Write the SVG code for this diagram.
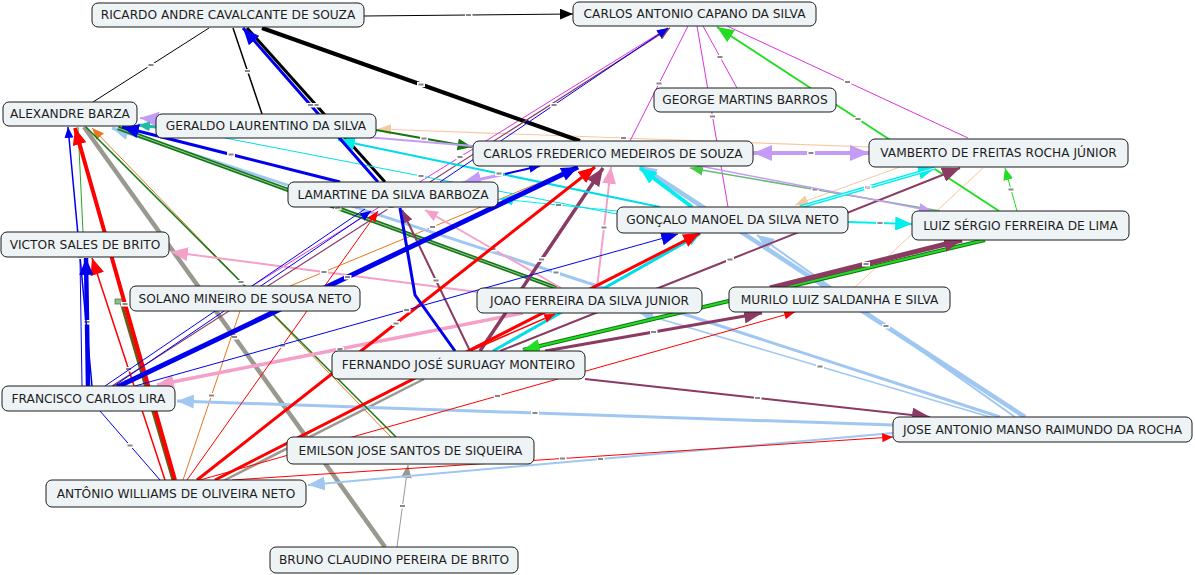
<svg xmlns="http://www.w3.org/2000/svg" width="1195" height="575" viewBox="0 0 1195 575">
<style>
.n rect{fill:#eef3f6;stroke:#1a1a1a;stroke-width:1}
.n text{font-family:"DejaVu Sans",Verdana,sans-serif;font-size:12.2px;fill:#1e1e1e;text-anchor:middle}
#edges path{fill:none;stroke-linecap:butt;marker-mid:url(#lbl)}
#edges path.nm{marker-mid:none}
</style>
<defs>
<marker id="lbl" viewBox="0 0 8 5" refX="4" refY="2.5" markerWidth="8" markerHeight="5" markerUnits="userSpaceOnUse" orient="0"><rect width="8" height="5" fill="#fff"/><rect x="1.5" y="1.5" width="5" height="2" fill="#888"/></marker>
<marker id="aK" viewBox="0 0 12 10" refX="12" refY="5" markerWidth="13" markerHeight="11" markerUnits="userSpaceOnUse" orient="auto"><path d="M0,0L12,5L0,10z" fill="#000"/></marker>
<marker id="aB" viewBox="0 0 12 10" refX="12" refY="5" markerWidth="11" markerHeight="9" markerUnits="userSpaceOnUse" orient="auto"><path d="M0,0L12,5L0,10z" fill="#0000ee"/></marker>
<marker id="aBL" viewBox="0 0 12 10" refX="12" refY="5" markerWidth="17" markerHeight="14" markerUnits="userSpaceOnUse" orient="auto"><path d="M0,0L12,5L0,10z" fill="#0000ee"/></marker>
<marker id="aR" viewBox="0 0 12 10" refX="12" refY="5" markerWidth="11" markerHeight="9" markerUnits="userSpaceOnUse" orient="auto"><path d="M0,0L12,5L0,10z" fill="#ff0000"/></marker>
<marker id="aRL" viewBox="0 0 12 10" refX="12" refY="5" markerWidth="17" markerHeight="14" markerUnits="userSpaceOnUse" orient="auto"><path d="M0,0L12,5L0,10z" fill="#ff0000"/></marker>
<marker id="aP" viewBox="0 0 12 10" refX="12" refY="5" markerWidth="13" markerHeight="11" markerUnits="userSpaceOnUse" orient="auto"><path d="M0,0L12,5L0,10z" fill="#8b3a62"/></marker>
<marker id="aPL" viewBox="0 0 12 10" refX="12" refY="5" markerWidth="18" markerHeight="15" markerUnits="userSpaceOnUse" orient="auto"><path d="M0,0L12,5L0,10z" fill="#8b3a62"/></marker>
<marker id="aC" viewBox="0 0 12 10" refX="12" refY="5" markerWidth="13" markerHeight="11" markerUnits="userSpaceOnUse" orient="auto"><path d="M0,0L12,5L0,10z" fill="#00eeee"/></marker>
<marker id="aCL" viewBox="0 0 12 10" refX="12" refY="5" markerWidth="17" markerHeight="14" markerUnits="userSpaceOnUse" orient="auto"><path d="M0,0L12,5L0,10z" fill="#00eeee"/></marker>
<marker id="aLb" viewBox="0 0 12 10" refX="12" refY="5" markerWidth="13" markerHeight="11" markerUnits="userSpaceOnUse" orient="auto"><path d="M0,0L12,5L0,10z" fill="#9fc7f2"/></marker>
<marker id="aLbL" viewBox="0 0 12 10" refX="12" refY="5" markerWidth="17" markerHeight="14" markerUnits="userSpaceOnUse" orient="auto"><path d="M0,0L12,5L0,10z" fill="#9fc7f2"/></marker>
<marker id="aLv" viewBox="0 0 12 10" refX="12" refY="5" markerWidth="13" markerHeight="11" markerUnits="userSpaceOnUse" orient="auto"><path d="M0,0L12,5L0,10z" fill="#c49cf5"/></marker>
<marker id="aLvL" viewBox="0 0 12 10" refX="12" refY="5" markerWidth="19" markerHeight="16" markerUnits="userSpaceOnUse" orient="auto-start-reverse"><path d="M0,0L12,5L0,10z" fill="#c49cf5"/></marker>
<marker id="aPk" viewBox="0 0 12 10" refX="12" refY="5" markerWidth="13" markerHeight="11" markerUnits="userSpaceOnUse" orient="auto"><path d="M0,0L12,5L0,10z" fill="#f5a0c8"/></marker>
<marker id="aPkL" viewBox="0 0 12 10" refX="12" refY="5" markerWidth="17" markerHeight="14" markerUnits="userSpaceOnUse" orient="auto"><path d="M0,0L12,5L0,10z" fill="#f5a0c8"/></marker>
<marker id="aPc" viewBox="0 0 12 10" refX="12" refY="5" markerWidth="13" markerHeight="11" markerUnits="userSpaceOnUse" orient="auto"><path d="M0,0L12,5L0,10z" fill="#f8c8a0"/></marker>
<marker id="aO" viewBox="0 0 12 10" refX="12" refY="5" markerWidth="12" markerHeight="10" markerUnits="userSpaceOnUse" orient="auto"><path d="M0,0L12,5L0,10z" fill="#e87722"/></marker>
<marker id="aG" viewBox="0 0 12 10" refX="12" refY="5" markerWidth="12" markerHeight="10" markerUnits="userSpaceOnUse" orient="auto"><path d="M0,0L12,5L0,10z" fill="#22dd22"/></marker>
<marker id="aGL" viewBox="0 0 12 10" refX="12" refY="5" markerWidth="17" markerHeight="14" markerUnits="userSpaceOnUse" orient="auto"><path d="M0,0L12,5L0,10z" fill="#22dd22"/></marker>
<marker id="aSg" viewBox="0 0 12 10" refX="12" refY="5" markerWidth="13" markerHeight="11" markerUnits="userSpaceOnUse" orient="auto"><path d="M0,0L12,5L0,10z" fill="#44cc44"/></marker>
<marker id="aDg" viewBox="0 0 12 10" refX="12" refY="5" markerWidth="15" markerHeight="12" markerUnits="userSpaceOnUse" orient="auto"><path d="M0,0L12,5L0,10z" fill="#117711"/></marker>
<marker id="aGy" viewBox="0 0 12 10" refX="12" refY="5" markerWidth="13" markerHeight="11" markerUnits="userSpaceOnUse" orient="auto"><path d="M0,0L12,5L0,10z" fill="#999990"/></marker>
<marker id="aT" viewBox="0 0 12 10" refX="12" refY="5" markerWidth="12" markerHeight="10" markerUnits="userSpaceOnUse" orient="auto"><path d="M0,0L12,5L0,10z" fill="#22bbaa"/></marker>
</defs>
<rect width="1195" height="575" fill="#fff"/>
<g id="edges">
<!-- gray -->
<path d="M385,547L234.5,337L84,127" stroke="#999990" stroke-width="4.5"/>
<path d="M397,547L402.5,506L408,465" stroke="#999990" stroke-width="1" marker-end="url(#aGy)"/>
<path class="nm" d="M223,481L424,379" stroke="#999990" stroke-width="2.5"/>
<!-- orange -->
<path d="M391,437L241.5,282.5L92,128" stroke="#e87722" stroke-width="1" marker-end="url(#aO)"/>
<path d="M290,286L432.5,227L575,168" stroke="#e87722" stroke-width="1" marker-end="url(#aO)"/>
<path d="M183,480L211.5,395.5L240,311" stroke="#e87722" stroke-width="1"/>
<!-- peach -->
<path d="M869,147L623.5,138L378,129" stroke="#f8c8a0" stroke-width="1.2" marker-end="url(#aPc)"/>
<path d="M983,168L919,227.5L855,287" stroke="#f8c8a0" stroke-width="1"/>
<path class="nm" d="M900,167L795,205" stroke="#f8c8a0" stroke-width="1" marker-end="url(#aPc)"/>
<!-- light blue -->
<path d="M893,425L535,413L177,401" stroke="#9fc7f2" stroke-width="3" marker-end="url(#aLbL)"/>
<path d="M893,433L600.5,459L308,485" stroke="#9fc7f2" stroke-width="2" marker-end="url(#aLbL)"/>
<path d="M1000,417L556,272.5L112,128" stroke="#9fc7f2" stroke-width="3" marker-end="url(#aLbL)"/>
<path d="M1025,417L832.5,291.5L640,166" stroke="#9fc7f2" stroke-width="4.5" marker-end="url(#aLbL)"/>
<path d="M1015,417L886,326L757,235" stroke="#9fc7f2" stroke-width="2" marker-end="url(#aLbL)"/>
<path d="M1000,420L820,366.5L640,313" stroke="#9fc7f2" stroke-width="1.5" marker-end="url(#aLb)"/>
<!-- dark green -->
<path d="M86,127L241,282L396,437" stroke="#117711" stroke-width="1.5"/>
<path d="M118,128L337.5,208L557,288" stroke="#117711" stroke-width="4"/>
<path class="nm" d="M118,128L557,288" stroke="#9cc79c" stroke-width="1"/>
<path d="M376,130L424,138.5L472,147" stroke="#117711" stroke-width="2" marker-end="url(#aDg)"/>
<path class="nm" d="M78,127L83,232" stroke="#22aa22" stroke-width="1"/>
<!-- olive -->
<path class="nm" d="M173,480L121,302" stroke="#6b5a14" stroke-width="3"/>
<rect x="115" y="299" width="9" height="5" fill="#8fbf8f" stroke="#557755" stroke-width="0.8"/>
<!-- magenta -->
<path d="M252,286L460,157L668,28" stroke="#dd33dd" stroke-width="1"/>
<path d="M688,26L659,83.5L630,141" stroke="#dd33dd" stroke-width="1"/>
<path d="M697,26L712.5,116.5L728,207" stroke="#dd33dd" stroke-width="1"/>
<path d="M703,26L720,57L737,88" stroke="#dd33dd" stroke-width="1"/>
<path d="M727,26L847.5,82L968,138" stroke="#dd33dd" stroke-width="1"/>
<!-- black -->
<path d="M364,16L468.5,15L573,14" stroke="#000" stroke-width="1" marker-end="url(#aK)"/>
<path d="M209,28L151,65L93,102" stroke="#000" stroke-width="1"/>
<path d="M233,28L247.5,71L262,114" stroke="#000" stroke-width="1.5"/>
<path d="M247,28L316,105L385,182" stroke="#000" stroke-width="3"/>
<path d="M262,28L421,84.5L580,141" stroke="#000" stroke-width="4"/>
<!-- green -->
<path d="M999,211L858,119L717,27" stroke="#22dd22" stroke-width="2" marker-end="url(#aGL)"/>
<path d="M1017,211L1011,189.5L1005,168" stroke="#22dd22" stroke-width="1" marker-end="url(#aG)"/>
<path class="nm" d="M985,240L523,350" stroke="#117711" stroke-width="4"/>
<path d="M985,240L754,295L523,350" stroke="#22dd22" stroke-width="2" marker-end="url(#aGL)"/>
<path d="M940,211L815,189.5L690,168" stroke="#66bb77" stroke-width="1.5" marker-end="url(#aSg)"/>
<!-- pink -->
<path d="M597,288L604,227.5L611,167" stroke="#f5a0c8" stroke-width="2" marker-end="url(#aPkL)"/>
<path d="M477,292L324,272L171,252" stroke="#f5a0c8" stroke-width="2" marker-end="url(#aPkL)"/>
<path d="M523,313L340,349L157,385" stroke="#f5a0c8" stroke-width="3.5" marker-end="url(#aPkL)"/>
<path d="M561,288L493,249L425,210" stroke="#f5a0c8" stroke-width="2" marker-end="url(#aPk)"/>
<!-- purple -->
<path d="M112,386L391,207L670,28" stroke="#8b3a62" stroke-width="1.2" marker-end="url(#aP)"/>
<path d="M470,351L436,280.5L402,210" stroke="#8b3a62" stroke-width="2" marker-end="url(#aP)"/>
<path d="M480,351L541.5,259.5L603,168" stroke="#8b3a62" stroke-width="3.5" marker-end="url(#aPL)"/>
<path d="M500,351L730,259.5L960,168" stroke="#8b3a62" stroke-width="2" marker-end="url(#aPL)"/>
<path d="M545,351L653.5,332L762,313" stroke="#8b3a62" stroke-width="3" marker-end="url(#aPL)"/>
<path d="M585,379L757.5,398L930,417" stroke="#8b3a62" stroke-width="2" marker-end="url(#aPL)"/>
<path d="M770,288L866,264L962,240" stroke="#8b3a62" stroke-width="5" marker-end="url(#aPL)"/>
<!-- lavender -->
<path d="M753,153L811,153L869,153" stroke="#c49cf5" stroke-width="4" marker-start="url(#aLvL)" marker-end="url(#aLvL)"/>
<path class="nm" d="M505,174L462,183" stroke="#c49cf5" stroke-width="3" marker-end="url(#aLvL)"/>
<path d="M473,146L306.5,132L140,118" stroke="#c49cf5" stroke-width="2" marker-end="url(#aLvL)"/>
<path class="nm" d="M700,166L932,211" stroke="#c49cf5" stroke-width="1.5" marker-end="url(#aLv)"/>
<!-- cyan -->
<path d="M848,222L880,223L912,224" stroke="#00eeee" stroke-width="2" marker-end="url(#aCL)"/>
<path d="M800,207L867.5,187.5L935,168" stroke="#00eeee" stroke-width="3.5" marker-end="url(#aCL)"/>
<path class="nm" d="M800,207L935,168" stroke="#ffffff" stroke-width="0.8"/>
<path class="nm" d="M692,207L640,168" stroke="#00eeee" stroke-width="4" marker-end="url(#aCL)"/>
<path d="M617,211L558.5,205L500,199" stroke="#00eeee" stroke-width="1" marker-end="url(#aC)"/>
<path d="M660,207L499,173.5L338,140" stroke="#00dde8" stroke-width="2" marker-end="url(#aCL)"/>
<path d="M225,138L421,176L617,214" stroke="#00e0e8" stroke-width="1"/>
<path class="nm" d="M493,351L700,234" stroke="#00dde8" stroke-width="3" marker-end="url(#aC)"/>
<path class="nm" d="M156,127L138,125" stroke="#22bbaa" stroke-width="3" marker-end="url(#aT)"/>
<!-- red -->
<path d="M175,480L125,304L75,128" stroke="#ff0000" stroke-width="4" marker-end="url(#aRL)"/>
<path d="M165,480L128.5,369L92,258" stroke="#ff0000" stroke-width="1.5" marker-end="url(#aRL)"/>
<path d="M197,480L396,323.5L595,167" stroke="#ff0000" stroke-width="3" marker-end="url(#aRL)"/>
<path class="nm" d="M215,480L700,233" stroke="#ff0000" stroke-width="3" marker-end="url(#aRL)"/>
<path d="M187,480L282.5,345.5L378,211" stroke="#ff0000" stroke-width="1" marker-end="url(#aR)"/>
<path d="M232,480L562.5,458.5L893,437" stroke="#ff0000" stroke-width="1" marker-end="url(#aR)"/>
<path d="M200,480L497.5,396L795,312" stroke="#ff0000" stroke-width="1" marker-end="url(#aR)"/>
<path class="nm" d="M470,351L555,314" stroke="#ff0000" stroke-width="1.5" marker-end="url(#aR)"/>
<!-- blue -->
<path d="M378,182L310.5,105L243,28" stroke="#0000ee" stroke-width="3" marker-end="url(#aBL)"/>
<path d="M340,182L231,154.5L122,127" stroke="#0000ee" stroke-width="3" marker-end="url(#aBL)"/>
<path d="M88,386L87,322L86,258" stroke="#0000ee" stroke-width="4.5" marker-end="url(#aBL)"/>
<path class="nm" d="M82,386L80,258" stroke="#0000ee" stroke-width="1"/>
<path d="M92,386L80,256.5L68,127" stroke="#0000ee" stroke-width="1.5" marker-end="url(#aB)"/>
<path d="M117,387L347.5,277L578,167" stroke="#0000ee" stroke-width="5" marker-end="url(#aBL)"/>
<path d="M135,386L406.5,310L678,234" stroke="#0000ee" stroke-width="1" marker-end="url(#aBL)"/>
<path d="M160,480L130,445.5L100,411" stroke="#0000ee" stroke-width="1"/>
<path class="nm" d="M455,351L415,295L400,208" stroke="#0000ee" stroke-width="3"/>
<path class="nm" d="M105,386L365,209" stroke="#0000ee" stroke-width="1"/>
<path class="nm" d="M111,388L371,211" stroke="#0000ee" stroke-width="1" marker-end="url(#aB)"/>
<path d="M440,182L554,105L668,28" stroke="#0000ee" stroke-width="1" marker-end="url(#aB)"/>
<path class="nm" d="M505,174L540,166" stroke="#0000ee" stroke-width="2" marker-end="url(#aB)"/>
</g>
<g id="n-ricardo" class="n"><rect x="92" y="3" width="272" height="24" rx="6"/><text x="228" y="19.3">RICARDO ANDRE CAVALCANTE DE SOUZA</text></g>
<g id="n-capano" class="n"><rect x="573" y="2" width="243" height="24" rx="6"/><text x="694.5" y="18.3">CARLOS ANTONIO CAPANO DA SILVA</text></g>
<g id="n-alexandre" class="n"><rect x="3" y="102" width="134" height="24" rx="6"/><text x="70" y="118.3">ALEXANDRE BARZA</text></g>
<g id="n-geraldo" class="n"><rect x="156" y="114" width="220" height="24" rx="6"/><text x="266" y="130.3">GERALDO LAURENTINO DA SILVA</text></g>
<g id="n-george" class="n"><rect x="654" y="88" width="182" height="24" rx="6"/><text x="745" y="104.3">GEORGE MARTINS BARROS</text></g>
<g id="n-carlosfred" class="n"><rect x="473" y="141" width="280" height="25" rx="6"/><text x="613" y="157.8">CARLOS FREDERICO MEDEIROS DE SOUZA</text></g>
<g id="n-vamberto" class="n"><rect x="869" y="139" width="259" height="28" rx="6"/><text x="998.5" y="157.3">VAMBERTO DE FREITAS ROCHA JÚNIOR</text></g>
<g id="n-lamartine" class="n"><rect x="288" y="182" width="210" height="25" rx="6"/><text x="393" y="198.8">LAMARTINE DA SILVA BARBOZA</text></g>
<g id="n-goncalo" class="n"><rect x="617" y="207" width="231" height="26" rx="6"/><text x="732.5" y="224.3">GONÇALO MANOEL DA SILVA NETO</text></g>
<g id="n-luiz" class="n"><rect x="912" y="211" width="217" height="29" rx="6"/><text x="1020.5" y="229.8">LUIZ SÉRGIO FERREIRA DE LIMA</text></g>
<g id="n-victor" class="n"><rect x="1" y="232" width="168" height="25" rx="6"/><text x="85" y="248.8">VICTOR SALES DE BRITO</text></g>
<g id="n-solano" class="n"><rect x="130" y="286" width="230" height="25" rx="6"/><text x="245" y="302.8">SOLANO MINEIRO DE SOUSA NETO</text></g>
<g id="n-joao" class="n"><rect x="477" y="288" width="225" height="25" rx="6"/><text x="589.5" y="304.8">JOAO FERREIRA DA SILVA JUNIOR</text></g>
<g id="n-murilo" class="n"><rect x="729" y="287" width="221" height="25" rx="6"/><text x="839.5" y="303.8">MURILO LUIZ SALDANHA E SILVA</text></g>
<g id="n-fernando" class="n"><rect x="332" y="351" width="253" height="28" rx="6"/><text x="458.5" y="369.3">FERNANDO JOSÉ SURUAGY MONTEIRO</text></g>
<g id="n-francisco" class="n"><rect x="2" y="386" width="173" height="25" rx="6"/><text x="88.5" y="402.8">FRANCISCO CARLOS LIRA</text></g>
<g id="n-jose" class="n"><rect x="893" y="417" width="299" height="25" rx="6"/><text x="1042.5" y="433.8">JOSE ANTONIO MANSO RAIMUNDO DA ROCHA</text></g>
<g id="n-emilson" class="n"><rect x="287" y="437" width="247" height="27" rx="6"/><text x="410.5" y="454.8">EMILSON JOSE SANTOS DE SIQUEIRA</text></g>
<g id="n-antonio" class="n"><rect x="46" y="480" width="260" height="27" rx="6"/><text x="176" y="497.8">ANTÔNIO WILLIAMS DE OLIVEIRA NETO</text></g>
<g id="n-bruno" class="n"><rect x="270" y="547" width="248" height="26" rx="6"/><text x="394" y="564.3">BRUNO CLAUDINO PEREIRA DE BRITO</text></g>
</svg>
